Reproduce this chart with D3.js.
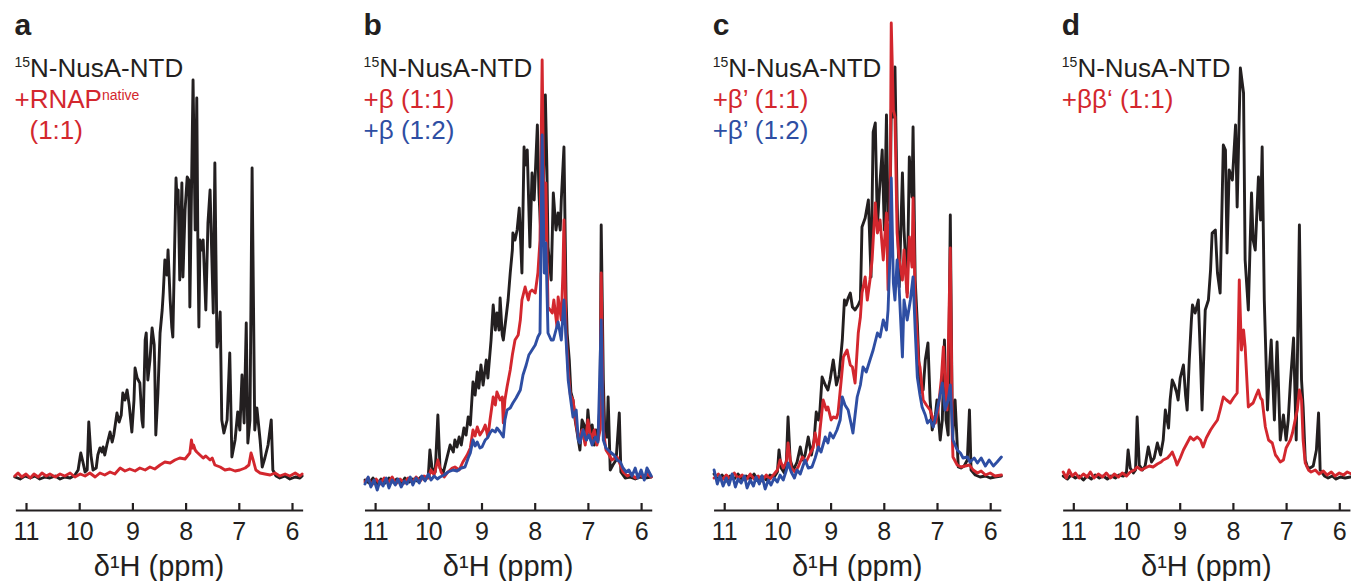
<!DOCTYPE html>
<html>
<head>
<meta charset="utf-8">
<script src="https://cdn.jsdelivr.net/npm/d3@7"></script>
<style>
  body { margin: 0; background: #fff; }
  svg { display: block; }
  text { font-family: "Liberation Sans", Arial, Helvetica, sans-serif; }
</style>
</head>
<body>
<svg id="chart" width="1351" height="581"></svg>
<script>
// 1D 1H NMR spectra of 15N-NusA-NTD, alone and with RNAP subunits.
// Each trace: [chemical shift (ppm), intensity (a.u.)]
const ppmTicks = [11, 10, 9, 8, 7, 6];
const panelLetters = ["a", "b", "c", "d"];

const aFree = [[11.21,0],[11.11,-2],[11.02,1],[10.92,-1],[10.83,1],[10.74,-2],[10.64,0],[10.55,-1],[10.45,1],[10.36,-2],[10.27,0],[10.17,-1],[10.08,2],[10.02,7],[9.98,21],[9.97,24],[9.93,15],[9.89,5],[9.85,7],[9.82,55],[9.78,22],[9.74,7],[9.68,9],[9.65,22],[9.61,29],[9.57,25],[9.55,30],[9.52,22],[9.48,32],[9.42,45],[9.38,35],[9.35,42],[9.29,64],[9.25,55],[9.21,62],[9.18,84],[9.14,77],[9.10,87],[9.06,72],[9.01,45],[8.97,77],[8.95,109],[8.91,99],[8.86,94],[8.82,57],[8.80,50],[8.76,137],[8.74,144],[8.71,97],[8.67,117],[8.63,149],[8.59,132],[8.58,110],[8.56,42],[8.52,84],[8.48,144],[8.44,167],[8.42,184],[8.39,217],[8.35,202],[8.33,227],[8.29,177],[8.26,150],[8.24,140],[8.18,299],[8.16,277],[8.14,287],[8.11,197],[8.07,294],[8.05,200],[8.01,267],[7.97,300],[7.94,297],[7.92,170],[7.86,397],[7.82,247],[7.79,379],[7.77,237],[7.75,150],[7.73,237],[7.69,227],[7.67,237],[7.62,167],[7.58,254],[7.54,287],[7.48,164],[7.45,314],[7.41,130],[7.37,147],[7.35,165],[7.32,57],[7.28,44],[7.22,57],[7.17,124],[7.13,20],[7.07,37],[7.02,65],[6.98,47],[6.94,102],[6.90,54],[6.86,154],[6.83,34],[6.79,57],[6.75,309],[6.70,47],[6.66,69],[6.60,37],[6.56,10],[6.51,19],[6.45,32],[6.39,57],[6.36,7],[6.30,1],[6.23,-1],[6.13,1],[6.04,-2],[5.94,0],[5.85,-1],[5.81,1]];
const aRnap = [[11.21,1],[11.15,4],[11.08,0],[11.00,3],[10.92,-1],[10.85,3],[10.77,0],[10.70,4],[10.62,1],[10.55,3],[10.45,0],[10.36,3],[10.27,1],[10.17,4],[10.08,0],[9.98,3],[9.89,1],[9.80,4],[9.70,0],[9.61,4],[9.52,2],[9.42,5],[9.33,3],[9.23,9],[9.14,6],[9.05,8],[8.95,6],[8.86,9],[8.76,7],[8.67,10],[8.58,8],[8.48,12],[8.39,15],[8.29,14],[8.20,17],[8.11,19],[8.01,18],[7.95,22],[7.92,24],[7.89,37],[7.87,29],[7.85,32],[7.82,27],[7.79,25],[7.73,22],[7.67,19],[7.62,21],[7.54,17],[7.50,19],[7.45,12],[7.35,10],[7.26,7],[7.17,8],[7.07,6],[6.98,7],[6.88,9],[6.81,12],[6.77,24],[6.73,17],[6.68,7],[6.60,4],[6.51,3],[6.41,2],[6.32,4],[6.23,1],[6.13,3],[6.04,1],[5.94,4],[5.85,1],[5.81,3]];

const bFree = [[11.19,-3],[11.11,-6],[11.04,-1],[10.96,-7],[10.89,-2],[10.81,-6],[10.74,-1],[10.66,-5],[10.59,-2],[10.51,-7],[10.44,-1],[10.36,-5],[10.29,-2],[10.21,-4],[10.14,0],[10.06,-3],[10.00,1],[9.97,27],[9.93,9],[9.87,5],[9.82,62],[9.78,9],[9.72,4],[9.65,19],[9.59,32],[9.53,25],[9.50,37],[9.46,30],[9.42,40],[9.38,32],[9.33,49],[9.29,42],[9.25,60],[9.21,52],[9.16,95],[9.12,82],[9.08,105],[9.05,89],[9.01,112],[8.97,92],[8.91,117],[8.88,99],[8.82,137],[8.78,172],[8.74,147],[8.71,164],[8.67,147],[8.65,179],[8.61,142],[8.59,137],[8.54,159],[8.50,177],[8.46,204],[8.42,227],[8.41,244],[8.37,237],[8.33,247],[8.29,269],[8.24,204],[8.20,330],[8.18,312],[8.14,327],[8.09,230],[8.05,304],[8.01,277],[7.95,352],[7.92,284],[7.88,237],[7.84,277],[7.80,382],[7.77,307],[7.75,230],[7.69,197],[7.65,284],[7.60,247],[7.56,264],[7.52,247],[7.50,277],[7.45,330],[7.41,177],[7.39,144],[7.35,117],[7.32,85],[7.28,77],[7.24,57],[7.18,37],[7.15,27],[7.11,57],[7.07,52],[7.03,37],[7.00,67],[6.96,42],[6.92,52],[6.88,32],[6.85,47],[6.81,37],[6.77,77],[6.75,252],[6.71,97],[6.68,40],[6.64,40],[6.62,80],[6.58,7],[6.53,12],[6.47,17],[6.41,64],[6.38,5],[6.30,-1],[6.21,0],[6.11,-2],[6.02,0],[5.92,-1],[5.81,0]];
const bBeta11 = [[11.19,-5],[11.13,-1],[11.06,-8],[10.98,-2],[10.91,-7],[10.83,-1],[10.76,-6],[10.68,0],[10.61,-7],[10.53,-2],[10.45,-6],[10.38,-1],[10.30,-5],[10.23,0],[10.15,-4],[10.08,1],[10.00,-1],[9.95,7],[9.89,2],[9.82,17],[9.76,5],[9.70,0],[9.63,5],[9.55,9],[9.50,10],[9.42,7],[9.35,15],[9.27,22],[9.21,29],[9.16,47],[9.12,41],[9.08,50],[9.03,42],[8.97,47],[8.93,52],[8.88,40],[8.84,57],[8.78,80],[8.74,72],[8.71,85],[8.65,77],[8.61,80],[8.59,54],[8.56,77],[8.52,90],[8.46,107],[8.42,122],[8.37,137],[8.31,142],[8.27,157],[8.24,177],[8.18,190],[8.12,177],[8.09,185],[8.05,187],[7.99,184],[7.94,204],[7.90,237],[7.86,417],[7.82,237],[7.79,294],[7.75,170],[7.71,167],[7.67,164],[7.64,177],[7.58,150],[7.56,180],[7.50,157],[7.47,204],[7.45,257],[7.41,144],[7.37,107],[7.33,82],[7.28,77],[7.22,52],[7.17,37],[7.11,47],[7.05,32],[7.00,57],[6.94,37],[6.88,47],[6.83,32],[6.77,47],[6.75,204],[6.71,47],[6.66,27],[6.60,22],[6.55,17],[6.49,19],[6.45,20],[6.39,12],[6.34,5],[6.26,1],[6.19,3],[6.11,-1],[6.04,2],[5.96,0],[5.89,3],[5.81,0]];
const bBeta12 = [[11.19,-7],[11.13,0],[11.08,-10],[11.02,-3],[10.96,-13],[10.91,-4],[10.85,-9],[10.79,-1],[10.74,-11],[10.68,-3],[10.62,-8],[10.57,-2],[10.51,-10],[10.45,-4],[10.40,-7],[10.34,0],[10.29,-8],[10.23,-1],[10.17,-6],[10.12,1],[10.06,-4],[10.00,3],[9.95,-3],[9.89,1],[9.83,-2],[9.78,0],[9.70,2],[9.63,5],[9.53,7],[9.46,6],[9.38,9],[9.31,10],[9.25,19],[9.21,24],[9.16,37],[9.12,31],[9.08,35],[9.03,29],[8.99,30],[8.93,37],[8.89,39],[8.84,44],[8.80,47],[8.74,45],[8.71,49],[8.65,45],[8.59,40],[8.56,57],[8.52,67],[8.46,69],[8.41,74],[8.35,79],[8.27,87],[8.22,102],[8.16,112],[8.11,122],[8.05,127],[7.99,132],[7.94,140],[7.90,144],[7.86,342],[7.82,204],[7.79,234],[7.75,144],[7.69,137],[7.65,137],[7.60,147],[7.56,155],[7.50,137],[7.45,177],[7.41,137],[7.37,97],[7.33,80],[7.28,60],[7.22,67],[7.18,37],[7.15,34],[7.09,47],[7.03,37],[6.98,42],[6.92,32],[6.86,40],[6.81,35],[6.75,157],[6.71,37],[6.66,29],[6.58,25],[6.51,22],[6.45,17],[6.39,15],[6.34,9],[6.28,5],[6.23,7],[6.17,1],[6.11,9],[6.06,-1],[6.00,7],[5.94,-3],[5.89,9],[5.81,1]];

const cFree = [[11.19,3],[11.11,-3],[11.04,2],[10.96,-4],[10.89,1],[10.81,-2],[10.74,3],[10.66,-3],[10.59,1],[10.51,-2],[10.44,3],[10.36,-4],[10.29,1],[10.21,-3],[10.14,2],[10.06,0],[10.00,5],[9.97,27],[9.93,9],[9.87,4],[9.83,17],[9.80,60],[9.76,17],[9.70,7],[9.63,15],[9.57,30],[9.52,17],[9.48,22],[9.42,40],[9.36,22],[9.31,37],[9.27,65],[9.23,57],[9.20,67],[9.16,100],[9.10,92],[9.05,87],[9.01,97],[8.95,117],[8.89,92],[8.84,102],[8.78,137],[8.74,177],[8.71,172],[8.67,179],[8.63,184],[8.59,170],[8.54,167],[8.48,172],[8.44,177],[8.41,250],[8.35,259],[8.29,277],[8.24,200],[8.20,345],[8.16,354],[8.12,250],[8.09,280],[8.03,327],[7.99,247],[7.95,362],[7.92,257],[7.88,277],[7.86,367],[7.82,360],[7.79,410],[7.75,277],[7.71,190],[7.65,304],[7.62,247],[7.56,184],[7.52,320],[7.47,280],[7.45,350],[7.41,197],[7.37,154],[7.32,87],[7.26,87],[7.22,117],[7.17,134],[7.13,77],[7.09,47],[7.03,62],[7.00,77],[6.94,37],[6.90,57],[6.86,137],[6.83,57],[6.79,42],[6.75,262],[6.71,37],[6.66,77],[6.60,10],[6.55,9],[6.49,11],[6.43,17],[6.39,67],[6.36,7],[6.28,2],[6.19,0],[6.09,1],[6.00,-1],[5.91,0],[5.79,1]];
const cBetaP11 = [[11.19,-1],[11.11,3],[11.04,-3],[10.96,2],[10.89,-2],[10.81,4],[10.74,-1],[10.66,2],[10.59,-3],[10.51,3],[10.44,-2],[10.36,1],[10.29,-4],[10.21,2],[10.14,-2],[10.06,3],[10.00,7],[9.95,17],[9.89,9],[9.83,15],[9.80,34],[9.74,9],[9.67,5],[9.61,10],[9.53,20],[9.46,15],[9.38,24],[9.33,29],[9.29,44],[9.23,27],[9.20,47],[9.14,77],[9.08,67],[9.05,70],[8.99,57],[8.95,60],[8.89,59],[8.86,64],[8.80,97],[8.76,120],[8.69,127],[8.63,112],[8.59,110],[8.54,94],[8.48,144],[8.44,160],[8.41,184],[8.35,200],[8.31,177],[8.26,197],[8.22,217],[8.16,274],[8.12,244],[8.07,257],[8.01,217],[7.95,264],[7.92,187],[7.88,277],[7.86,454],[7.82,367],[7.79,360],[7.75,244],[7.71,217],[7.65,197],[7.62,227],[7.56,180],[7.52,240],[7.47,210],[7.45,279],[7.41,177],[7.35,117],[7.32,110],[7.26,77],[7.20,72],[7.13,67],[7.07,57],[7.03,54],[6.98,67],[6.92,97],[6.88,130],[6.85,97],[6.81,67],[6.75,229],[6.71,37],[6.70,20],[6.62,12],[6.55,10],[6.47,11],[6.39,12],[6.32,7],[6.24,4],[6.17,6],[6.09,2],[6.00,4],[5.91,1],[5.79,2]];
const cBetaP12 = [[11.19,7],[11.13,-7],[11.08,1],[11.02,-9],[10.96,-1],[10.91,-8],[10.85,3],[10.79,-10],[10.74,-2],[10.68,-6],[10.62,1],[10.57,-11],[10.51,-3],[10.45,-9],[10.40,0],[10.34,-7],[10.29,1],[10.23,-12],[10.17,-3],[10.12,-8],[10.06,-1],[10.00,-5],[9.95,2],[9.89,-3],[9.83,7],[9.80,14],[9.74,5],[9.68,-1],[9.63,7],[9.57,3],[9.52,11],[9.48,17],[9.42,9],[9.35,10],[9.29,19],[9.23,30],[9.18,25],[9.10,40],[9.05,34],[9.01,44],[8.95,39],[8.88,47],[8.82,57],[8.78,80],[8.73,72],[8.67,67],[8.61,52],[8.58,44],[8.54,62],[8.50,80],[8.44,92],[8.39,110],[8.33,105],[8.26,117],[8.20,127],[8.12,144],[8.07,140],[8.01,157],[7.95,147],[7.92,167],[7.88,227],[7.86,299],[7.82,194],[7.79,177],[7.75,217],[7.71,187],[7.65,120],[7.62,177],[7.56,157],[7.50,177],[7.45,200],[7.41,147],[7.37,100],[7.32,82],[7.28,70],[7.22,62],[7.18,54],[7.13,57],[7.07,50],[7.02,62],[6.96,77],[6.90,94],[6.85,67],[6.79,77],[6.75,92],[6.70,37],[6.62,27],[6.56,24],[6.51,19],[6.43,20],[6.38,15],[6.30,19],[6.24,14],[6.17,19],[6.09,11],[6.02,17],[5.94,11],[5.87,15],[5.79,20]];

const dFree = [[11.19,1],[11.11,-2],[11.04,2],[10.96,-1],[10.89,1],[10.81,-3],[10.74,1],[10.66,-2],[10.59,2],[10.51,-1],[10.44,1],[10.36,-2],[10.29,1],[10.21,-1],[10.14,2],[10.06,1],[10.00,5],[9.97,27],[9.93,9],[9.87,4],[9.83,7],[9.80,60],[9.76,12],[9.70,7],[9.65,11],[9.59,30],[9.53,15],[9.48,19],[9.42,34],[9.36,22],[9.31,37],[9.27,67],[9.21,49],[9.18,77],[9.14,97],[9.10,92],[9.06,85],[9.03,77],[8.99,99],[8.93,112],[8.89,82],[8.86,67],[8.82,117],[8.78,157],[8.76,172],[8.71,164],[8.65,177],[8.61,120],[8.58,67],[8.52,167],[8.46,177],[8.42,207],[8.39,244],[8.33,247],[8.29,204],[8.24,184],[8.18,332],[8.14,327],[8.11,224],[8.07,307],[8.01,297],[7.95,352],[7.92,270],[7.86,409],[7.80,384],[7.77,217],[7.71,167],[7.65,284],[7.62,237],[7.58,227],[7.52,300],[7.48,257],[7.45,330],[7.41,177],[7.39,140],[7.35,67],[7.32,102],[7.28,137],[7.22,57],[7.17,135],[7.11,37],[7.05,62],[7.00,37],[6.96,57],[6.92,94],[6.86,139],[6.81,37],[6.75,252],[6.71,97],[6.68,70],[6.64,17],[6.60,10],[6.55,9],[6.49,11],[6.43,27],[6.39,64],[6.36,7],[6.28,1],[6.21,-1],[6.13,1],[6.06,-2],[5.98,0],[5.89,-1],[5.79,0]];
const dBetaBetaP = [[11.19,5],[11.13,-1],[11.08,7],[11.02,1],[10.96,4],[10.89,-1],[10.81,3],[10.74,0],[10.68,5],[10.61,-1],[10.53,3],[10.45,0],[10.38,4],[10.30,-1],[10.23,3],[10.15,0],[10.08,4],[10.00,1],[9.93,5],[9.85,7],[9.80,10],[9.72,7],[9.65,9],[9.57,11],[9.50,10],[9.42,13],[9.35,15],[9.31,17],[9.23,19],[9.18,22],[9.14,25],[9.08,17],[9.05,12],[8.99,19],[8.93,27],[8.88,32],[8.80,40],[8.74,37],[8.67,40],[8.61,37],[8.56,30],[8.50,39],[8.42,47],[8.37,51],[8.29,57],[8.24,67],[8.18,80],[8.12,77],[8.05,74],[7.99,79],[7.92,84],[7.88,197],[7.84,127],[7.80,147],[7.77,130],[7.71,70],[7.67,72],[7.62,74],[7.56,82],[7.52,87],[7.48,79],[7.45,77],[7.39,50],[7.33,37],[7.26,34],[7.20,22],[7.17,20],[7.11,15],[7.05,17],[7.00,29],[6.92,37],[6.88,44],[6.83,57],[6.79,67],[6.75,87],[6.71,77],[6.68,37],[6.64,14],[6.58,7],[6.53,5],[6.45,7],[6.38,3],[6.30,6],[6.23,2],[6.15,5],[6.08,1],[6.00,4],[5.92,2],[5.85,5],[5.77,3]];

const INK = "#231f20", RED = "#d3272e", BLUE = "#2e4ea3";

const panels = [
  { traces: [[aFree, INK], [aRnap, RED]],
    legend: [
      { color: INK, parts: [["15", true], ["N-NusA-NTD", false]] },
      { color: RED, parts: [["+RNAP", false], ["native", true]] },
      { color: RED, indent: 15, parts: [["(1:1)", false]] }
    ] },
  { traces: [[bFree, INK], [bBeta11, RED], [bBeta12, BLUE]],
    legend: [
      { color: INK, parts: [["15", true], ["N-NusA-NTD", false]] },
      { color: RED, parts: [["+β (1:1)", false]] },
      { color: BLUE, parts: [["+β (1:2)", false]] }
    ] },
  { traces: [[cFree, INK], [cBetaP11, RED], [cBetaP12, BLUE]],
    legend: [
      { color: INK, parts: [["15", true], ["N-NusA-NTD", false]] },
      { color: RED, parts: [["+β’ (1:1)", false]] },
      { color: BLUE, parts: [["+β’ (1:2)", false]] }
    ] },
  { traces: [[dFree, INK], [dBetaBetaP, RED]],
    legend: [
      { color: INK, parts: [["15", true], ["N-NusA-NTD", false]] },
      { color: RED, parts: [["+ββ‘ (1:1)", false]] }
    ] }
];

// layout
const firstTick = 26, panelStep = 349.1, pxPerPpm = 53.2;
const axisY = 510;
const y = d3.scaleLinear().domain([0, 400]).range([477, 77]);

const svg = d3.select("#chart");

panels.forEach((p, i) => {
  const x11 = firstTick + i * panelStep;
  const x = d3.scaleLinear()
    .domain([11.2, 5.8])
    .range([x11 - 0.2 * pxPerPpm, x11 + 5.2 * pxPerPpm]);
  const g = svg.append("g");

  // spectra
  const line = d3.line().x(d => x(d[0])).y(d => y(d[1]));
  p.traces.forEach(([data, color]) => {
    g.append("path")
      .datum(data)
      .attr("d", line)
      .attr("fill", "none")
      .attr("stroke", color)
      .attr("stroke-width", 2.9)
      .attr("stroke-linejoin", "round")
      .attr("stroke-linecap", "round");
  });

  // chemical shift axis, ticks pointing up
  const ax = g.append("g")
    .attr("transform", `translate(0,${axisY})`)
    .call(d3.axisBottom(x).tickValues(ppmTicks).tickSize(-7)
      .tickSizeOuter(0).tickPadding(12).tickFormat(d3.format("d")));
  ax.attr("font-family", null).attr("font-size", null);
  ax.select(".domain").attr("stroke", INK).attr("stroke-width", 2.2);
  ax.selectAll(".tick line").attr("stroke", INK).attr("stroke-width", 2.2);
  ax.selectAll(".tick text").attr("fill", INK).style("font-size", "25px");

  g.append("text")
    .attr("x", (x.range()[0] + x.range()[1]) / 2)
    .attr("y", 576)
    .attr("text-anchor", "middle")
    .attr("fill", INK)
    .style("font-size", "29px")
    .text("δ¹H (ppm)");

  // panel letter
  const left = x11 - 11.5;
  g.append("text")
    .attr("x", left).attr("y", 35)
    .attr("fill", INK)
    .style("font-size", "30px").style("font-weight", "bold")
    .text(panelLetters[i]);

  // sample annotations
  p.legend.forEach((row, r) => {
    const t = g.append("text")
      .attr("x", left + (row.indent || 0))
      .attr("y", 77 + r * 31)
      .attr("fill", row.color)
      .style("font-size", "26px");
    let raised = false;
    row.parts.forEach(([str, sup]) => {
      const shift = sup ? (r === 0 ? -10 : -8) : 0;
      const ts = t.append("tspan").text(str);
      if (sup) {
        ts.style("font-size", "14px").attr("dy", shift);
        raised = shift;
      } else {
        ts.style("font-size", "26px");
        if (raised) { ts.attr("dy", -raised); raised = false; }
      }
    });
  });
});
</script>
</body>
</html>
